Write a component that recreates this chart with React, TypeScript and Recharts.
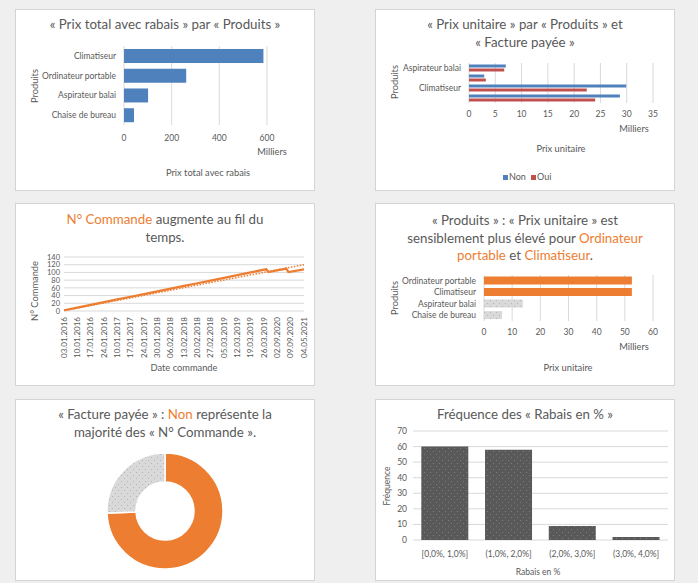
import React from 'react';
import { BarChart, Bar, XAxis, YAxis, CartesianGrid, LineChart, Line, PieChart, Pie, Cell } from 'recharts';

const FONT = "Lato, 'Open Sans', sans-serif";
const TXT = '#595959';
const GRID = '#d9d9d9';
const ORANGE = '#ED7D31';
const BLUE = '#4F81BD';
const RED = '#C0504D';

// Chart 1 : Prix total avec rabais (milliers)
const totalProducts = ['Climatiseur', 'Ordinateur portable', 'Aspirateur balai', 'Chaise de bureau'];
const totalValues = [585, 261, 101, 42];
const totalTicks = [0, 200, 400, 600];

// Chart 2 : Prix unitaire par produit et facture payée (milliers)
const unitProducts = ['Aspirateur balai', 'Chaise de bureau', 'Climatiseur', 'Ordinateur portable'];
const unitNon = [7.0, 2.9, 29.9, 28.7];
const unitOui = [6.7, 3.2, 22.4, 24.0];
const unitTicks = [0, 5, 10, 15, 20, 25, 30, 35];

// Chart 3 : N° Commande au fil du temps
const dateLabels = [
  '03.01.2016', '10.01.2016', '17.01.2016', '24.01.2016', '10.01.2017', '17.01.2017', '24.01.2017',
  '30.01.2018', '06.02.2018', '13.02.2018', '20.02.2018', '27.02.2018', '05.03.2019', '12.03.2019',
  '19.03.2019', '26.03.2019', '02.09.2020', '09.09.2020', '04.05.2021',
];
const dateTickIndex = [0, 6, 12, 18, 24, 30, 36, 42, 48, 54, 60, 66, 72, 78, 84, 90, 96, 102, 108];
const orderIndex = [0, 6, 12, 18, 24, 30, 36, 42, 48, 54, 60, 66, 72, 78, 84, 90, 91, 92, 100, 101, 108];
const orderValues = [2, 9, 16, 23, 30, 37, 44, 51, 58, 65, 72, 79, 86, 93, 100, 107, 108, 101, 110, 101, 108];
const trendIndex = [0, 108];
const trendValues = [1, 120];
const orderTicks = [0, 20, 40, 60, 80, 100, 120, 140];

// Chart 4 : Prix unitaire par produit (milliers)
const avgProducts = ['Ordinateur portable', 'Climatiseur', 'Aspirateur balai', 'Chaise de bureau'];
const avgValues = [52.5, 52.5, 13.8, 6.4];
const avgHighlight = [true, true, false, false];
const avgTicks = [0, 10, 20, 30, 40, 50, 60];

// Chart 5 : Facture payée
const paidLabels = ['Non', 'Oui'];
const paidValues = [96, 33];

// Chart 6 : Fréquence des rabais
const discountBins = ['[0,0%, 1,0%]', '(1,0%, 2,0%]', '(2,0%, 3,0%]', '(3,0%, 4,0%]'];
const discountFreq = [60, 58, 9, 2];
const freqTicks = [0, 10, 20, 30, 40, 50, 60, 70];

const totalData = totalProducts.map((p, k) => ({ p, v: totalValues[k] }));
const unitData = unitProducts.map((p, k) => ({ p, non: unitNon[k], oui: unitOui[k] }));
const orderData = orderIndex.map((i, k) => {
  const t = trendIndex.indexOf(i);
  return { i, v: orderValues[k], t: t >= 0 ? trendValues[t] : null };
});
const avgData = avgProducts.map((p, k) => ({ p, v: avgValues[k] }));
const paidData = paidLabels.map((n, k) => ({ n, v: paidValues[k] }));
const discountData = discountBins.map((b, k) => ({ b, v: discountFreq[k] }));

const TICK = { fontSize: 8.5, fill: TXT };
const AX = 9.3;

const Card = ({ left, top, h, children }: any) => (
  <div style={{ position: 'absolute', left, top, width: 300, height: h, background: '#fff', boxShadow: 'inset 0 0 0 1px #d4d4d4' }}>
    {children}
  </div>
);

const Txt = ({ x, y, children, size = AX, rotate = false }: any) => (
  <div
    style={{
      position: 'absolute', left: x, top: y, fontSize: size, color: TXT, whiteSpace: 'nowrap', lineHeight: 1,
      transform: `translate(-50%,-50%)${rotate ? ' rotate(-90deg)' : ''}`,
    }}
  >
    {children}
  </div>
);

const Title = ({ top, children }: any) => (
  <div style={{ position: 'absolute', left: 0, top, width: 300, textAlign: 'center', fontSize: 13.3, lineHeight: '17.5px', color: TXT }}>
    {children}
  </div>
);

const O = ({ children }: any) => <span style={{ color: ORANGE }}>{children}</span>;

const CatTick = (props: any) => {
  const { x, y, payload } = props;
  return (
    <text x={x} y={y} dy="0.355em" textAnchor="end" fontSize={8.5} fill={TXT}>
      {payload.value}
    </text>
  );
};

const DateTick = (props: any) => {
  const { x, y, payload } = props;
  const k = dateTickIndex.indexOf(payload.value);
  return (
    <g transform={`translate(${x},${y})`}>
      <text transform="rotate(-90)" textAnchor="end" dy="0.35em" fontSize={8} fill={TXT}>
        {dateLabels[k]}
      </text>
    </g>
  );
};

export default function App() {
  return (
    <div style={{ position: 'absolute', left: 0, top: 0, width: 698, height: 583, background: '#efefef', fontFamily: FONT, overflow: 'hidden' }}>
      <svg width={0} height={0} style={{ position: 'absolute' }}>
        <defs>
          <pattern id="dotsLight" width={6} height={6} patternUnits="userSpaceOnUse">
            <rect width={6} height={6} fill="#d9d9d9" />
            <rect x={1} y={1} width={1} height={1} fill="#b4b4b4" />
            <rect x={4} y={4} width={1} height={1} fill="#b4b4b4" />
          </pattern>
          <pattern id="dotsDark" width={6} height={6} patternUnits="userSpaceOnUse">
            <rect width={6} height={6} fill="#595959" />
            <rect x={1} y={1} width={1} height={1} fill="#7c7c7c" />
            <rect x={4} y={4} width={1} height={1} fill="#7c7c7c" />
          </pattern>
        </defs>
      </svg>

      {/* Chart 1 */}
      <Card left={15} top={9} h={182}>
        <Title top={7}>« Prix total avec rabais » par « Produits »</Title>
        <div style={{ position: 'absolute', left: 0, top: 0 }}>
          <BarChart width={300} height={182} data={totalData} layout="vertical" margin={{ top: 37, right: 48, left: 0, bottom: 46 }} barCategoryGap="15%">
            <CartesianGrid horizontal={false} stroke={GRID} />
            <XAxis type="number" domain={[0, 600]} ticks={totalTicks} axisLine={false} tickLine={false} tickMargin={4} height={20} tick={TICK} interval={0} />
            <YAxis type="category" dataKey="p" width={109} axisLine={false} tickLine={false} tick={<CatTick />} interval={0} />
            <Bar dataKey="v" fill={BLUE} isAnimationActive={false} />
          </BarChart>
        </div>
        <Txt x={20} y={77} rotate>Produits</Txt>
        <Txt x={257} y={143}>Milliers</Txt>
        <Txt x={193} y={164}>Prix total avec rabais</Txt>
      </Card>

      {/* Chart 2 */}
      <Card left={375} top={9} h={182}>
        <Title top={7}>« Prix unitaire » par « Produits » et<br />« Facture payée »</Title>
        <div style={{ position: 'absolute', left: 0, top: 0 }}>
          <BarChart width={300} height={182} data={unitData} layout="vertical" margin={{ top: 54, right: 22, left: 0, bottom: 68 }} barCategoryGap="15%" barGap={1}>
            <CartesianGrid horizontal={false} stroke={GRID} />
            <XAxis type="number" domain={[0, 35]} ticks={unitTicks} axisLine={false} tickLine={false} tickMargin={2} height={20} tick={TICK} interval={0} />
            <YAxis type="category" dataKey="p" width={94} axisLine={false} tickLine={false} tick={<CatTick />} interval={1} />
            <Bar dataKey="non" fill={BLUE} isAnimationActive={false} />
            <Bar dataKey="oui" fill={RED} isAnimationActive={false} />
          </BarChart>
        </div>
        <Txt x={20} y={73} rotate>Produits</Txt>
        <Txt x={259} y={120}>Milliers</Txt>
        <Txt x={186} y={140}>Prix unitaire</Txt>
        <div style={{ position: 'absolute', left: 128, top: 166, width: 5, height: 5, background: BLUE }} />
        <div style={{ position: 'absolute', left: 134, top: 163, fontSize: 9, color: TXT, lineHeight: '10px' }}>Non</div>
        <div style={{ position: 'absolute', left: 156, top: 166, width: 5, height: 5, background: RED }} />
        <div style={{ position: 'absolute', left: 162, top: 163, fontSize: 9, color: TXT, lineHeight: '10px' }}>Oui</div>
      </Card>

      {/* Chart 3 */}
      <Card left={15} top={203} h={183}>
        <Title top={8}><O>N° Commande</O> augmente au fil du<br />temps.</Title>
        <div style={{ position: 'absolute', left: 0, top: 0 }}>
          <LineChart width={300} height={183} data={orderData} margin={{ top: 54, right: 11, left: 0, bottom: 25 }}>
            <CartesianGrid vertical={false} stroke={GRID} />
            <XAxis type="number" dataKey="i" domain={[0, 108]} ticks={dateTickIndex} interval={0} axisLine={false} tickLine={false} tickSize={0} tickMargin={6} height={50} tick={<DateTick />} />
            <YAxis type="number" domain={[0, 140]} ticks={orderTicks} width={49} axisLine={false} tickLine={false} tickSize={0} tickMargin={4} tick={{ fontSize: 7.5, fill: TXT }} interval={0} />
            <Line type="linear" dataKey="v" stroke={ORANGE} strokeWidth={2.25} dot={false} isAnimationActive={false} />
            <Line type="linear" dataKey="t" stroke={ORANGE} strokeWidth={1.5} strokeDasharray="1.5 1.5" dot={false} connectNulls isAnimationActive={false} />
          </LineChart>
        </div>
        <Txt x={20} y={88} rotate>N° Commande</Txt>
        <Txt x={169} y={165}>Date commande</Txt>
      </Card>

      {/* Chart 4 */}
      <Card left={375} top={203} h={183}>
        <Title top={9}>« Produits » : « Prix unitaire » est<br />sensiblement plus élevé pour <O>Ordinateur</O><br /><O>portable</O> et <O>Climatiseur</O>.</Title>
        <div style={{ position: 'absolute', left: 0, top: 0 }}>
          <BarChart width={300} height={183} data={avgData} layout="vertical" margin={{ top: 72, right: 22, left: 0, bottom: 45 }} barCategoryGap="14%">
            <CartesianGrid horizontal={false} stroke={GRID} />
            <XAxis type="number" domain={[0, 60]} ticks={avgTicks} axisLine={false} tickLine={false} tickMargin={2} height={20} tick={TICK} interval={0} />
            <YAxis type="category" dataKey="p" width={109} axisLine={false} tickLine={false} tick={<CatTick />} interval={0} />
            <Bar dataKey="v" isAnimationActive={false}>
              {avgData.map((d, k) => (
                <Cell key={d.p} fill={avgHighlight[k] ? ORANGE : 'url(#dotsLight)'} />
              ))}
            </Bar>
          </BarChart>
        </div>
        <Txt x={20} y={95} rotate>Produits</Txt>
        <Txt x={259} y={144}>Milliers</Txt>
        <Txt x={193} y={165}>Prix unitaire</Txt>
      </Card>

      {/* Chart 5 */}
      <Card left={15} top={399} h={182}>
        <Title top={7}>« Facture payée » : <O>Non</O> représente la<br />majorité des « N° Commande ».</Title>
        <div style={{ position: 'absolute', left: 0, top: 0 }}>
          <PieChart width={300} height={182} margin={{ top: 0, right: 0, bottom: 0, left: 0 }}>
            <Pie data={paidData} dataKey="v" nameKey="n" cx={150} cy={112} innerRadius={29} outerRadius={58} startAngle={90} endAngle={-270} stroke="#fff" strokeWidth={1.5} isAnimationActive={false}>
              <Cell fill={ORANGE} />
              <Cell fill="url(#dotsLight)" />
            </Pie>
          </PieChart>
        </div>
      </Card>

      {/* Chart 6 */}
      <Card left={375} top={399} h={182}>
        <Title top={7}>Fréquence des « Rabais en % »</Title>
        <div style={{ position: 'absolute', left: 0, top: 0 }}>
          <BarChart width={300} height={182} data={discountData} margin={{ top: 32, right: 7, left: 0, bottom: 21 }} barCategoryGap="13%">
            <CartesianGrid vertical={false} stroke={GRID} />
            <XAxis dataKey="b" axisLine={false} tickLine={false} tickMargin={5} height={20} tick={TICK} interval={0} />
            <YAxis type="number" domain={[0, 70]} ticks={freqTicks} width={38} axisLine={false} tickLine={false} tickSize={0} tickMargin={6} tick={TICK} interval={0} />
            <Bar dataKey="v" fill="url(#dotsDark)" isAnimationActive={false} />
          </BarChart>
        </div>
        <Txt x={12} y={87} rotate size={8.5}>Fréquence</Txt>
        <Txt x={163} y={173} size={8.5}>Rabais en %</Txt>
      </Card>
    </div>
  );
}
